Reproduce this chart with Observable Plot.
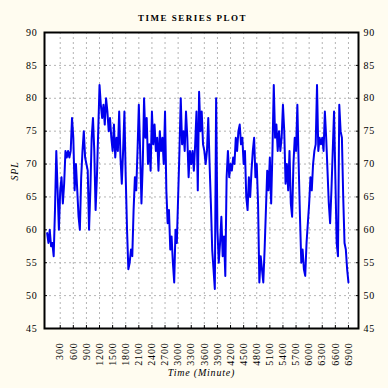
<!DOCTYPE html>
<html><head><meta charset="utf-8">
<script src="https://cdn.jsdelivr.net/npm/d3@7"></script>
<script src="https://cdn.jsdelivr.net/npm/@observablehq/plot@0.6"></script>
<style>html,body{margin:0;padding:0;background:#FFFCF0;} svg{display:block}</style>
</head><body><div id="chart"></div>
<script>
const title = "TIME SERIES PLOT";
const xLabel = "Time (Minute)";
const yLabel = "SPL";
const xTicks = [300,600,900,1200,1500,1800,2100,2400,2700,3000,3300,3600,3900,4200,4500,4800,5100,5400,5700,6000,6300,6600,6900];
const yTicks = [45,50,55,60,65,70,75,80,85,90];
const startMinute = 0;
const stepMinutes = 30;
const spl = [
  59.5,58,60,57.5,58,56,63,72,66,60,
  66,68,64,67,72,71,72,71,72,77,
  74,66,70,66,62,60,68,72,75,71,
  70,69,60,66,74,77,72,63,68,75,
  82,79,77,79,76,80,78,75,77,74,
  72,76,71,74,72,78,71,67,72,78,
  68,60,54,55,57,56,63,68,66,72,
  79,72,64,70,80,74,77,70,73,69,
  78,73,76,72,74,69,75,72,74,70,
  78,66,61,63,57,59,55,52,60,58,
  65,72,80,73,75,72,78,74,68,72,
  70,72,69,73,78,66,81,75,78,73,
  72,70,72,77,70,64,57,54,51,80,
  60,55,58,62,56,59,53,68,72,68,
  70,69,71,70,74,72,75,76,73,74,
  70,72,65,63,68,65,69,72,74,68,
  70,64,52,56,54,52,57,63,69,66,
  71,64,72,82,74,76,72,75,72,74,
  79,75,67,70,66,72,64,62,70,74,
  72,79,70,62,55,57,54,53,58,61,
  64,68,66,70,72,73,82,72,74,73,
  74,72,78,74,69,64,61,66,72,78,
  68,58,56,79,75,74,65,58,57,54,52
];
const series = spl.map((v, i) => ({minute: startMinute + i * stepMinutes, spl: v}));

const chart = Plot.plot({
  width: 388, height: 388,
  marginLeft: 44, marginRight: 30, marginTop: 32, marginBottom: 60,
  style: {background: "#FFFCF0", fontFamily: "Liberation Serif", fontSize: "10px", color: "black"},
  x: {domain: [-60, 7130]},
  y: {domain: [45, 90]},
  marks: [
    Plot.frame({fill: "white"}),
    Plot.gridX(xTicks, {stroke: "#b4b4b4", strokeOpacity: 1, strokeDasharray: "2,3"}),
    Plot.gridY(yTicks, {stroke: "#b4b4b4", strokeOpacity: 1, strokeDasharray: "2,3"}),
    Plot.line(series, {x: "minute", y: "spl", stroke: "#0000ee", strokeWidth: 2}),
    Plot.frame({stroke: "black", strokeWidth: 2}),
    Plot.axisY(yTicks, {anchor: "left", tickSize: -3, tickPadding: 10, label: null}),
    Plot.axisY(yTicks, {anchor: "right", tickSize: -3, tickPadding: 8, label: null}),
    Plot.axisX(xTicks, {anchor: "bottom", tickSize: -3, tickPadding: 17, tickRotate: -90, tickFormat: d => String(d), label: null}),
    Plot.text([title], {text: d => d, frameAnchor: "top", dy: -18, dx: -9, fontSize: 9, fontWeight: "bold", className: "ttl"}),
    Plot.text([yLabel], {text: d => d, frameAnchor: "left", dx: -30, rotate: -90, fontStyle: "italic", fontSize: 10}),
    Plot.text([xLabel], {text: d => d, frameAnchor: "bottom", dy: 47, fontStyle: "italic", fontSize: 10})
  ]
});
document.getElementById("chart").appendChild(chart);
d3.select(chart).selectAll("text").attr("letter-spacing", "0.8");
d3.select(chart).selectAll("g.ttl text").attr("letter-spacing", "1.5");
</script></body></html>
